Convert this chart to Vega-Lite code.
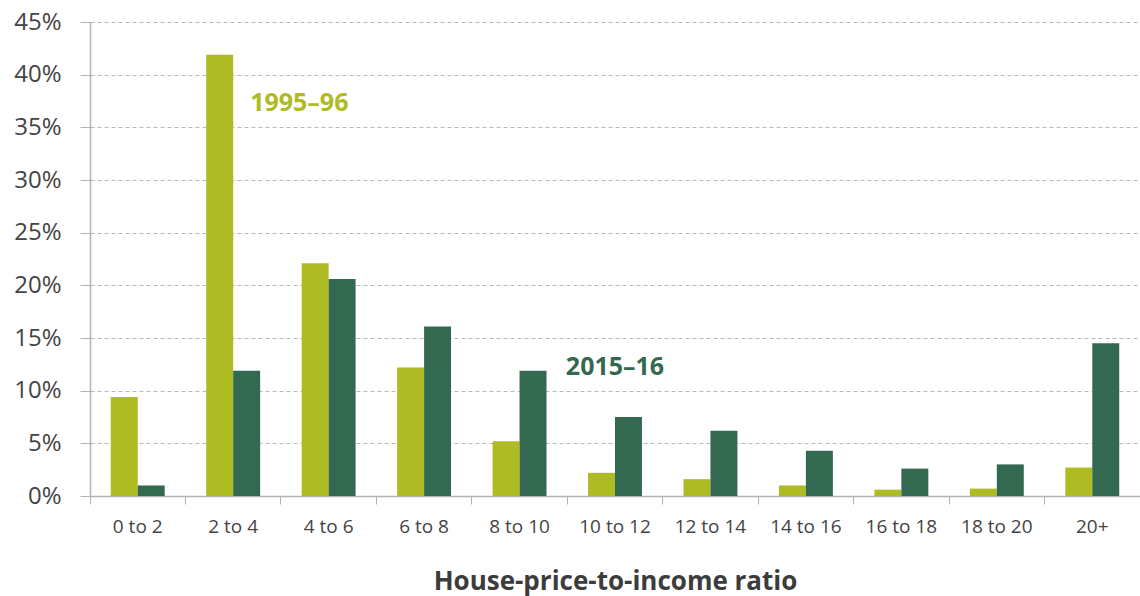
{
  "$schema": "https://vega.github.io/schema/vega-lite/v6.json",
  "width": 1050,
  "height": 474,
  "autosize": "none",
  "padding": {"left": 90, "top": 22, "right": 0, "bottom": 100},
  "background": "white",
  "config": {
    "view": {"stroke": null},
    "font": "Open Sans"
  },
  "datasets": {
    "bars": [
      {"ratio": "0 to 2", "period": "1995–96", "value": 9.4},
      {"ratio": "0 to 2", "period": "2015–16", "value": 1.0},
      {"ratio": "2 to 4", "period": "1995–96", "value": 41.9},
      {"ratio": "2 to 4", "period": "2015–16", "value": 11.9},
      {"ratio": "4 to 6", "period": "1995–96", "value": 22.1},
      {"ratio": "4 to 6", "period": "2015–16", "value": 20.6},
      {"ratio": "6 to 8", "period": "1995–96", "value": 12.2},
      {"ratio": "6 to 8", "period": "2015–16", "value": 16.1},
      {"ratio": "8 to 10", "period": "1995–96", "value": 5.2},
      {"ratio": "8 to 10", "period": "2015–16", "value": 11.9},
      {"ratio": "10 to 12", "period": "1995–96", "value": 2.2},
      {"ratio": "10 to 12", "period": "2015–16", "value": 7.5},
      {"ratio": "12 to 14", "period": "1995–96", "value": 1.6},
      {"ratio": "12 to 14", "period": "2015–16", "value": 6.2},
      {"ratio": "14 to 16", "period": "1995–96", "value": 1.0},
      {"ratio": "14 to 16", "period": "2015–16", "value": 4.3},
      {"ratio": "16 to 18", "period": "1995–96", "value": 0.6},
      {"ratio": "16 to 18", "period": "2015–16", "value": 2.6},
      {"ratio": "18 to 20", "period": "1995–96", "value": 0.7},
      {"ratio": "18 to 20", "period": "2015–16", "value": 3.0},
      {"ratio": "20+", "period": "1995–96", "value": 2.7},
      {"ratio": "20+", "period": "2015–16", "value": 14.5}
    ],
    "labels": [
      {"ratio": "2 to 4", "period": "1995–96", "value": 37.3, "label": "1995–96"},
      {"ratio": "10 to 12", "period": "2015–16", "value": 12.25, "label": "2015–16"}
    ]
  },
  "layer": [
    {
      "data": {"name": "bars"},
      "mark": {"type": "bar"},
      "encoding": {
        "x": {
          "field": "ratio",
          "type": "nominal",
          "sort": null,
          "scale": {"paddingInner": 0, "paddingOuter": 0},
          "axis": {
            "title": "House-price-to-income ratio",
            "titleFontSize": 26,
            "titleFontWeight": "bold",
            "titleColor": "#3c3c3c",
            "titlePadding": 32,
            "labelAngle": 0,
            "labelFontSize": 19,
            "labelColor": "#444444",
            "labelPadding": 13,
            "bandPosition": 0,
            "tickSize": 8,
            "tickColor": "#b3b3b3",
            "domainColor": "#b3b3b3",
            "domainWidth": 1.5,
            "grid": false
          }
        },
        "xOffset": {
          "field": "period",
          "type": "nominal",
          "scale": {"paddingInner": 0, "paddingOuter": 0.77}
        },
        "y": {
          "field": "value",
          "type": "quantitative",
          "scale": {"domain": [0, 45]},
          "axis": {
            "title": null,
            "values": [0, 5, 10, 15, 20, 25, 30, 35, 40, 45],
            "labelExpr": "datum.value + '%'",
            "labelFontSize": 24,
            "labelColor": "#444444",
            "labelPadding": 19,
            "tickSize": 10,
            "tickColor": "#b3b3b3",
            "domainColor": "#b3b3b3",
            "domainWidth": 1.5,
            "grid": true,
            "gridColor": "#b8b8b8",
            "gridDash": [4, 3],
            "gridWidth": 1
          }
        },
        "color": {
          "field": "period",
          "type": "nominal",
          "scale": {"domain": ["1995–96", "2015–16"], "range": ["#AEBB22", "#336950"]},
          "legend": null
        }
      }
    },
    {
      "data": {"name": "labels"},
      "transform": [{"filter": "datum.period === '1995–96'"}],
      "mark": {"type": "text", "fontWeight": "bold", "fontSize": 25, "baseline": "middle", "align": "left", "dx": 17, "color": "#AEBB22"},
      "encoding": {
        "x": {"field": "ratio", "type": "nominal", "sort": null},
        "y": {"field": "value", "type": "quantitative"},
        "text": {"field": "label"}
      }
    },
    {
      "data": {"name": "labels"},
      "transform": [{"filter": "datum.period === '2015–16'"}],
      "mark": {"type": "text", "fontWeight": "bold", "fontSize": 25, "baseline": "middle", "align": "center", "color": "#336950"},
      "encoding": {
        "x": {"field": "ratio", "type": "nominal", "sort": null},
        "y": {"field": "value", "type": "quantitative"},
        "text": {"field": "label"}
      }
    }
  ]
}
